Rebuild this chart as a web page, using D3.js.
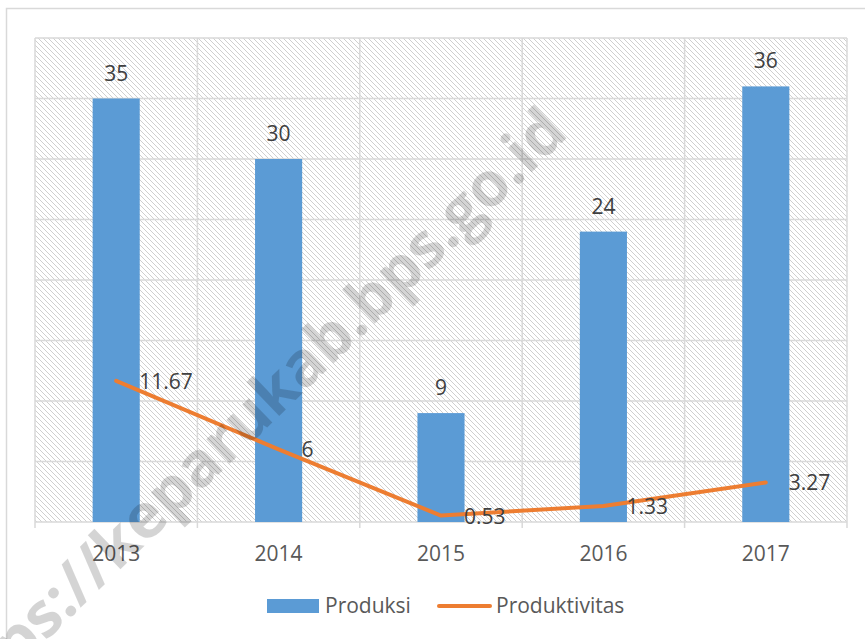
<!DOCTYPE html>
<html>
<head>
<meta charset="utf-8">
<script src="https://cdn.jsdelivr.net/npm/d3@7"></script>
<style>
  body { margin: 0; background: #fff; }
  svg text { font-family: "Open Sans", "DejaVu Sans", sans-serif; }
</style>
</head>
<body>
<div class="graph_container"></div>
<script>
const w = 865;
const h = 639;

// data
const years = ["2013", "2014", "2015", "2016", "2017"];
const produksi = [35, 30, 9, 24, 36];
const produktivitas = [11.67, 6, 0.53, 1.33, 3.27];
const seriesNames = ["Produksi", "Produktivitas"];
const yTicks = [0, 5, 10, 15, 20, 25, 30, 35, 40];
const watermark = "https://keparukab.bps.go.id";

const plot = { left: 35, right: 847, top: 38, bottom: 522 };
const blue = "#5b9bd5";
const orange = "#ed7d31";
const gridColor = "#d9d9d9";

const svg = d3.select(".graph_container").append("svg").attr("width", w).attr("height", h);

// hatch pattern for plot background
const defs = svg.append("defs");
const pat = defs.append("pattern")
  .attr("id", "hatch")
  .attr("patternUnits", "userSpaceOnUse")
  .attr("width", 5).attr("height", 5);
pat.append("path")
  .attr("d", "M-1,-1 L6,6 M-1,4 L1,6 M4,-1 L6,1")
  .attr("stroke", "#cfcfcf")
  .attr("stroke-width", 1);

// outer chart border
svg.append("rect")
  .attr("x", 6.5).attr("y", 8.5)
  .attr("width", w).attr("height", h)
  .attr("fill", "#fff")
  .attr("stroke", gridColor)
  .attr("stroke-width", 1.5);

var xScale = d3.scaleBand()
  .domain(years)
  .range([plot.left, plot.right])
  .padding(0);

var yScale = d3.scaleLinear()
  .domain([0, 40])
  .range([plot.bottom, plot.top]);

svg.append("rect")
  .attr("x", plot.left).attr("y", plot.top)
  .attr("width", plot.right - plot.left)
  .attr("height", plot.bottom - plot.top)
  .attr("fill", "url(#hatch)");

// horizontal gridlines
svg.append("g")
  .selectAll("line")
  .data(yTicks)
  .enter()
  .append("line")
  .attr("x1", plot.left).attr("x2", plot.right)
  .attr("y1", d => yScale(d)).attr("y2", d => yScale(d))
  .attr("stroke", gridColor)
  .attr("stroke-width", 1.5);

// vertical gridlines at category boundaries (extend below as tick marks)
var bounds = years.map(d => xScale(d)).concat([plot.right]);
svg.append("g")
  .selectAll("line")
  .data(bounds)
  .enter()
  .append("line")
  .attr("x1", d => d).attr("x2", d => d)
  .attr("y1", plot.top).attr("y2", plot.bottom + 6)
  .attr("stroke", gridColor)
  .attr("stroke-width", 1.5);

// bars
var barW = xScale.bandwidth() * 0.29;
svg.selectAll(".bar")
  .data(produksi)
  .enter()
  .append("rect")
  .attr("class", "bar")
  .attr("x", (d, i) => xScale(years[i]) + xScale.bandwidth() / 2 - barW / 2)
  .attr("y", d => yScale(d))
  .attr("width", barW)
  .attr("height", d => yScale(0) - yScale(d))
  .attr("fill", blue);

// bar labels
svg.selectAll(".bar-label")
  .data(produksi)
  .enter()
  .append("text")
  .attr("class", "bar-label")
  .attr("x", (d, i) => xScale(years[i]) + xScale.bandwidth() / 2)
  .attr("y", d => yScale(d) - 18)
  .attr("text-anchor", "middle")
  .attr("font-size", 21)
  .attr("fill", "#404040")
  .text(d => d);

// line
var line = d3.line()
  .x((d, i) => xScale(years[i]) + xScale.bandwidth() / 2)
  .y(d => yScale(d));

svg.append("path")
  .datum(produktivitas)
  .attr("d", line)
  .attr("fill", "none")
  .attr("stroke", orange)
  .attr("stroke-width", 4)
  .attr("stroke-linecap", "round")
  .attr("stroke-linejoin", "round");

svg.selectAll(".line-label")
  .data(produktivitas)
  .enter()
  .append("text")
  .attr("class", "line-label")
  .attr("x", (d, i) => xScale(years[i]) + xScale.bandwidth() / 2 + 23)
  .attr("y", d => yScale(d) + 8)
  .attr("font-size", 21)
  .attr("fill", "#404040")
  .text(d => d);

// x axis labels
svg.selectAll(".year")
  .data(years)
  .enter()
  .append("text")
  .attr("class", "year")
  .attr("x", d => xScale(d) + xScale.bandwidth() / 2)
  .attr("y", 561)
  .attr("text-anchor", "middle")
  .attr("font-size", 21)
  .attr("fill", "#595959")
  .text(d => d);

// legend
var legend = svg.append("g").attr("id", "legend");
legend.append("rect")
  .attr("x", 267).attr("y", 599)
  .attr("width", 52).attr("height", 14)
  .attr("fill", blue);
legend.append("text")
  .attr("x", 325).attr("y", 613)
  .attr("font-size", 21)
  .attr("fill", "#595959")
  .text(seriesNames[0]);
legend.append("line")
  .attr("x1", 439).attr("x2", 490)
  .attr("y1", 606).attr("y2", 606)
  .attr("stroke", orange)
  .attr("stroke-width", 4)
  .attr("stroke-linecap", "round");
legend.append("text")
  .attr("x", 496).attr("y", 613)
  .attr("font-size", 21)
  .attr("fill", "#595959")
  .text(seriesNames[1]);

// watermark
svg.append("text")
  .attr("transform", "translate(570,135) rotate(-44)")
  .attr("text-anchor", "end")
  .attr("font-size", 62)
  .attr("font-weight", "bold")
  .attr("fill", "#000")
  .attr("fill-opacity", 0.17)
  .text(watermark);
</script>
</body>
</html>
